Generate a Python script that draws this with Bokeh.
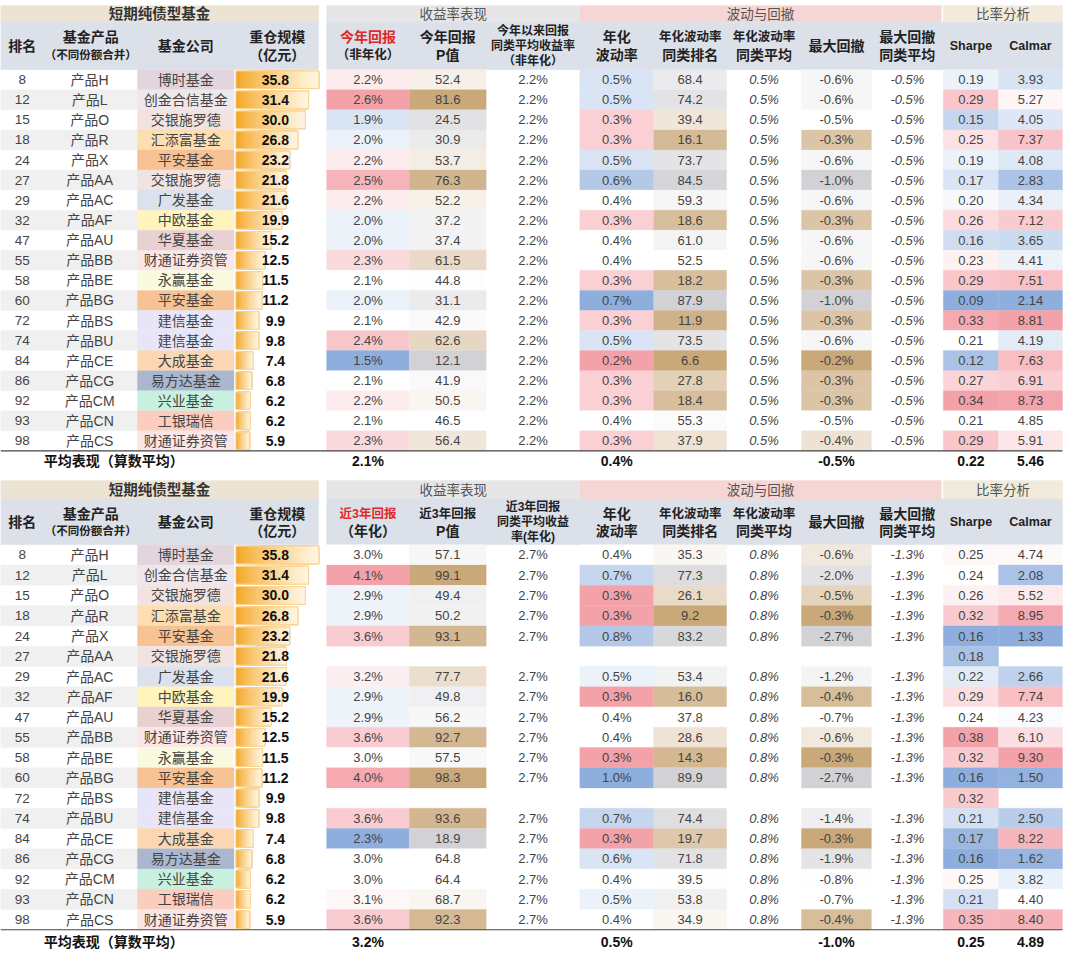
import numpy as np
from bokeh.plotting import figure
from bokeh.models import ColumnDataSource, Range1d
from bokeh.core.properties import value
from bokeh.embed import file_html
from bokeh.resources import INLINE

# ---------------- data ----------------
ranks = [8, 12, 15, 18, 24, 27, 29, 32, 47, 55, 58, 60, 72, 74, 84, 86, 92, 93, 98]
products = ["产品H", "产品L", "产品O", "产品R", "产品X", "产品AA", "产品AC", "产品AF", "产品AU",
            "产品BB", "产品BE", "产品BG", "产品BS", "产品BU", "产品CE", "产品CG", "产品CM", "产品CN", "产品CS"]
companies = ["博时基金", "创金合信基金", "交银施罗德", "汇添富基金", "平安基金", "交银施罗德", "广发基金",
             "中欧基金", "华夏基金", "财通证券资管", "永赢基金", "平安基金", "建信基金", "建信基金",
             "大成基金", "易方达基金", "兴业基金", "工银瑞信", "财通证券资管"]
holding_scale = [35.8, 31.4, 30.0, 26.8, 23.2, 21.8, 21.6, 19.9, 15.2, 12.5, 11.5, 11.2, 9.9, 9.8,
                 7.4, 6.8, 6.2, 6.2, 5.9]

group_titles = ["短期纯债型基金", "收益率表现", "波动与回撤", "比率分析"]
avg_label = "平均表现（算数平均）"

# top table: year-to-date
ytd_return = [2.2, 2.6, 1.9, 2.0, 2.2, 2.5, 2.2, 2.0, 2.0, 2.3, 2.1, 2.0, 2.1, 2.4, 1.5, 2.1, 2.2, 2.1, 2.3]
ytd_pvalue = [52.4, 81.6, 24.5, 30.9, 53.7, 76.3, 52.2, 37.2, 37.4, 61.5, 44.8, 31.1, 42.9, 62.6, 12.1,
              41.9, 50.5, 46.5, 56.4]
ytd_peer_avg = [2.2] * 19
ytd_vol = [0.5, 0.5, 0.3, 0.3, 0.5, 0.6, 0.4, 0.3, 0.4, 0.4, 0.3, 0.7, 0.3, 0.5, 0.2, 0.3, 0.3, 0.4, 0.3]
ytd_vol_rank = [68.4, 74.2, 39.4, 16.1, 73.7, 84.5, 59.3, 18.6, 61.0, 52.5, 18.2, 87.9, 11.9, 73.5, 6.6,
                27.8, 18.4, 55.3, 37.9]
ytd_vol_peer = [0.5] * 19
ytd_mdd = [-0.6, -0.6, -0.5, -0.3, -0.6, -1.0, -0.6, -0.3, -0.6, -0.6, -0.3, -1.0, -0.3, -0.6, -0.2,
           -0.3, -0.3, -0.5, -0.4]
ytd_mdd_peer = [-0.5] * 19
ytd_sharpe = [0.19, 0.29, 0.15, 0.25, 0.19, 0.17, 0.20, 0.26, 0.16, 0.23, 0.29, 0.09, 0.33, 0.21, 0.12,
              0.27, 0.34, 0.21, 0.29]
ytd_calmar = [3.93, 5.27, 4.05, 7.37, 4.08, 2.83, 4.34, 7.12, 3.65, 4.41, 7.51, 2.14, 8.81, 4.19, 7.63,
              6.91, 8.73, 4.85, 5.91]
ytd_averages = [2.1, 0.4, -0.5, 0.22, 5.46]

# bottom table: last 3 years (None = no value)
y3_return = [3.0, 4.1, 2.9, 2.9, 3.6, None, 3.2, 2.9, 2.9, 3.6, 3.0, 4.0, None, 3.6, 2.3, 3.0, 3.0, 3.1, 3.6]
y3_pvalue = [57.1, 99.1, 49.4, 50.2, 93.1, None, 77.7, 49.8, 56.2, 92.7, 57.5, 98.3, None, 93.6, 18.9,
             64.8, 64.4, 68.7, 92.3]
y3_peer_avg = [2.7, 2.7, 2.7, 2.7, 2.7, None, 2.7, 2.7, 2.7, 2.7, 2.7, 2.7, None, 2.7, 2.7, 2.7, 2.7, 2.7, 2.7]
y3_vol = [0.4, 0.7, 0.3, 0.3, 0.8, None, 0.5, 0.3, 0.4, 0.4, 0.3, 1.0, None, 0.7, 0.3, 0.6, 0.4, 0.5, 0.4]
y3_vol_rank = [35.3, 77.3, 26.1, 9.2, 83.2, None, 53.4, 16.0, 37.8, 28.6, 14.3, 89.9, None, 74.4, 19.7,
               71.8, 39.5, 53.8, 34.9]
y3_vol_peer = [0.8, 0.8, 0.8, 0.8, 0.8, None, 0.8, 0.8, 0.8, 0.8, 0.8, 0.8, None, 0.8, 0.8, 0.8, 0.8, 0.8, 0.8]
y3_mdd = [-0.6, -2.0, -0.5, -0.3, -2.7, None, -1.2, -0.4, -0.7, -0.6, -0.3, -2.7, None, -1.4, -0.3,
          -1.9, -0.8, -0.7, -0.4]
y3_mdd_peer = [-1.3, -1.3, -1.3, -1.3, -1.3, None, -1.3, -1.3, -1.3, -1.3, -1.3, -1.3, None, -1.3, -1.3,
               -1.3, -1.3, -1.3, -1.3]
y3_sharpe = [0.25, 0.24, 0.26, 0.32, 0.16, 0.18, 0.22, 0.29, 0.24, 0.38, 0.32, 0.16, 0.32, 0.21, 0.17,
             0.16, 0.25, 0.21, 0.35]
y3_calmar = [4.74, 2.08, 5.52, 8.95, 1.33, None, 2.66, 7.74, 4.23, 6.10, 9.30, 1.50, None, 2.50, 8.22,
             1.62, 3.82, 4.40, 8.40]
y3_averages = [3.2, 0.5, -1.0, 0.25, 4.89]

headers_common_left = [["排名"], ["基金产品", "（不同份额合并）"], ["基金公司"], ["重仓规模", "（亿元）"]]
headers_common_right = [["年化", "波动率"], ["年化波动率", "同类排名"], ["年化波动率", "同类平均"],
                        ["最大回撤"], ["最大回撤", "同类平均"], ["Sharpe"], ["Calmar"]]
headers_ytd = [["今年回报", "（非年化）"], ["今年回报", "P值"], ["今年以来回报", "同类平均收益率", "（非年化）"]]
headers_y3 = [["近3年回报", "（年化）"], ["近3年回报", "P值"], ["近3年回报", "同类平均收益", "率(年化)"]]

# ---------------- style / layout ----------------
FONT = "Liberation Sans, Noto Sans CJK SC"
TXT = "#444444"
RED = (244, 162, 170)
BLUE = (142, 174, 221)
BROWN = (201, 168, 122)
GREY = (210, 210, 214)
WHITE = (255, 255, 255)
company_colors = {
    "博时基金": (227, 213, 221), "创金合信基金": (238, 232, 236), "交银施罗德": (242, 227, 224),
    "汇添富基金": (253, 222, 178), "平安基金": (247, 194, 148), "广发基金": (220, 226, 237),
    "中欧基金": (255, 243, 190), "华夏基金": (232, 209, 211), "财通证券资管": (250, 229, 231),
    "永赢基金": (250, 250, 224), "建信基金": (231, 229, 247), "大成基金": (250, 214, 178),
    "易方达基金": (170, 183, 206), "兴业基金": (200, 240, 222), "工银瑞信": (250, 205, 190),
}

COLS = [(0, 44), (44, 139), (139, 237), (239, 323), (331, 415), (415, 493), (493, 588), (588, 663),
        (663, 737), (737, 813), (813, 884), (884, 957), (957, 1013), (1013, 1078)]
GROUPS = [(0, 323, (236, 227, 211)), (331, 588, (230, 230, 232)), (588, 955, (246, 214, 212)),
          (957, 1078, (242, 234, 219))]
HDR_BG = (219, 224, 233)
TABLES = [
    dict(g0=5, g1=22, h1=70.4, pitch=20.4, avg_y=468, two=(-9, 9), three=(-15, 0, 15)),
    dict(g0=488, g1=507, h1=553.5, pitch=20.6, avg_y=957, two=(-8.5, 9), three=(-15, 0, 15)),
]
BAR_K = 84.0 / 35.8


def hexc(c):
    return "#%02x%02x%02x" % tuple(int(round(v)) for v in c)


def mix(a, b, t):
    return tuple(a[i] + (b[i] - a[i]) * t for i in range(3))


def scale_colors(vals, lo, hi):
    v = [x for x in vals if x is not None]
    mn, md, mx = min(v), float(np.median(v)), max(v)
    out = []
    for x in vals:
        if x is None:
            out.append(None)
        elif x >= md:
            t = 0 if mx == md else (x - md) / (mx - md)
            out.append(hexc(mix(WHITE, hi, t)))
        else:
            t = 0 if md == mn else (md - x) / (md - mn)
            out.append(hexc(mix(WHITE, lo, t)))
    return out


p = figure(width=1064, height=951, x_range=Range1d(0, 1080), y_range=Range1d(967, 0),
           output_backend="svg", toolbar_location=None, min_border=0,
           x_axis_location=None, y_axis_location=None)
p.grid.visible = False
p.outline_line_color = None
p.background_fill_color = "white"
p.border_fill_color = "white"

Q = dict(left=[], right=[], top=[], bottom=[], color=[])
T = dict(x=[], y=[], text=[], size=[], style=[], color=[])
B = dict(left=[], right=[], top=[], bottom=[])


def quad(l, r, t, b, c):
    Q["left"].append(l); Q["right"].append(r); Q["top"].append(t); Q["bottom"].append(b)
    Q["color"].append(c if isinstance(c, str) else hexc(c))


def text(x, y, s, size="13px", style="normal", color=TXT):
    T["x"].append(x); T["y"].append(y); T["text"].append(s)
    T["size"].append(size); T["style"].append(style); T["color"].append(color)


def cx(i):
    return (COLS[i][0] + COLS[i][1]) / 2.0


def build(tab, headers, cols_data, averages):
    g0, g1, h1, pitch = tab["g0"], tab["g1"], tab["h1"], tab["pitch"]
    # group header row
    for (l, r, c), title in zip(GROUPS, group_titles):
        quad(l, r, g0, g1, c)
        text((l + r) / 2.0, (g0 + g1) / 2.0 + 0.5, title, "14.5px" if l == 0 else "13.5px",
             "bold" if l == 0 else "normal", "#333333" if l == 0 else "#555555")
    # column header row
    quad(0, 323, g1, h1, HDR_BG)
    quad(331, 1078, g1, h1, HDR_BG)
    hc = (g1 + h1) / 2.0
    for i, lines in enumerate(headers):
        if len(lines) == 1:
            offs = [0]
        elif len(lines) == 2:
            offs = tab["two"]
        else:
            offs = tab["three"]
        for j, (ln, off) in enumerate(zip(lines, offs)):
            if len(lines) == 3:
                size = "12px"
            elif i == 1 and j == 1:
                size = "11.5px"
            elif len(ln) >= 5:
                size = "12.5px"
            else:
                size = "14px"
            col = "#e02a2a" if (i == 4 and j == 0) else "#222222"
            text(cx(i), hc + off, ln, size, "bold", col)
    # data rows
    n = len(ranks)
    for r in range(n):
        top = h1 + r * pitch
        bot = top + pitch
        ym = (top + bot) / 2.0
        if r % 2 == 1:
            quad(0, 139, top, bot, (240, 240, 240))
        quad(139, 237, top, bot, company_colors[companies[r]])
        text(cx(0), ym, str(ranks[r]), "13.5px")
        text(cx(1) - 1, ym, products[r], "14px")
        text(cx(2), ym, companies[r], "14px")
        # gradient bar (overlapping slices, drawn left to right)
        L = holding_scale[r] * BAR_K
        nseg = 24
        for s in range(nseg):
            t = (s / (nseg - 1)) ** 0.8
            c = mix((245, 166, 35), (255, 246, 226), t)
            quad(239 + L * s / nseg, 239 + L, top + 1.3, bot - 1.3, c)
        B["left"].append(239); B["right"].append(239 + L); B["top"].append(top + 1.3); B["bottom"].append(bot - 1.3)
        text(279, ym, "%.1f" % holding_scale[r], "14px", "bold", "#111111")
    # metric columns
    for k, (vals, fmt, lo, hi, style) in enumerate(cols_data):
        ci = 4 + k
        colors = scale_colors(vals, lo, hi) if lo is not None else [None] * len(vals)
        for r, v in enumerate(vals):
            if v is None:
                continue
            top = h1 + r * pitch
            bot = top + pitch
            if colors[r] is not None:
                quad(COLS[ci][0], COLS[ci][1], top, bot, colors[r])
            text(cx(ci), (top + bot) / 2.0, fmt % v, "13px", style)
    # average row
    yb = h1 + n * pitch
    ay = tab["avg_y"]
    text(115, ay, avg_label, "14px", "bold", "#111111")
    for ci, v, fmt in zip([4, 7, 10, 12, 13], averages, ["%.1f%%", "%.1f%%", "%.1f%%", "%.2f", "%.2f"]):
        text(cx(ci), ay, fmt % v, "14px", "bold", "#111111")
    return yb


lines_y = []
for tab, hdr, data, avgs in [
    (TABLES[0], headers_common_left + headers_ytd + headers_common_right,
     [(ytd_return, "%.1f%%", BLUE, RED, "normal"), (ytd_pvalue, "%.1f", GREY, BROWN, "normal"),
      (ytd_peer_avg, "%.1f%%", None, None, "normal"), (ytd_vol, "%.1f%%", RED, BLUE, "normal"),
      (ytd_vol_rank, "%.1f", BROWN, GREY, "normal"), (ytd_vol_peer, "%.1f%%", None, None, "italic"),
      (ytd_mdd, "%.1f%%", GREY, BROWN, "normal"), (ytd_mdd_peer, "%.1f%%", None, None, "italic"),
      (ytd_sharpe, "%.2f", BLUE, RED, "normal"), (ytd_calmar, "%.2f", BLUE, RED, "normal")], ytd_averages),
    (TABLES[1], headers_common_left + headers_y3 + headers_common_right,
     [(y3_return, "%.1f%%", BLUE, RED, "normal"), (y3_pvalue, "%.1f", GREY, BROWN, "normal"),
      (y3_peer_avg, "%.1f%%", None, None, "normal"), (y3_vol, "%.1f%%", RED, BLUE, "normal"),
      (y3_vol_rank, "%.1f", BROWN, GREY, "normal"), (y3_vol_peer, "%.1f%%", None, None, "italic"),
      (y3_mdd, "%.1f%%", GREY, BROWN, "normal"), (y3_mdd_peer, "%.1f%%", None, None, "italic"),
      (y3_sharpe, "%.2f", BLUE, RED, "normal"), (y3_calmar, "%.2f", BLUE, RED, "normal")], y3_averages),
]:
    lines_y.append(build(tab, hdr, data, avgs))

p.quad(left="left", right="right", top="top", bottom="bottom", fill_color="color", line_color="color",
       line_width=0.3, source=ColumnDataSource(Q))
p.quad(left="left", right="right", top="top", bottom="bottom", fill_color=None, line_color="#f8d393",
       line_width=1, source=ColumnDataSource(B))
p.segment(x0=[0] * len(lines_y), x1=[1078] * len(lines_y), y0=lines_y, y1=lines_y, line_color="#444444",
          line_width=1.2)
p.text(x="x", y="y", text="text", text_font=value(FONT), text_font_size="size", text_font_style="style",
       text_color="color", text_align="center", text_baseline="middle", source=ColumnDataSource(T))

open("out.html", "w").write(file_html(p, INLINE))
